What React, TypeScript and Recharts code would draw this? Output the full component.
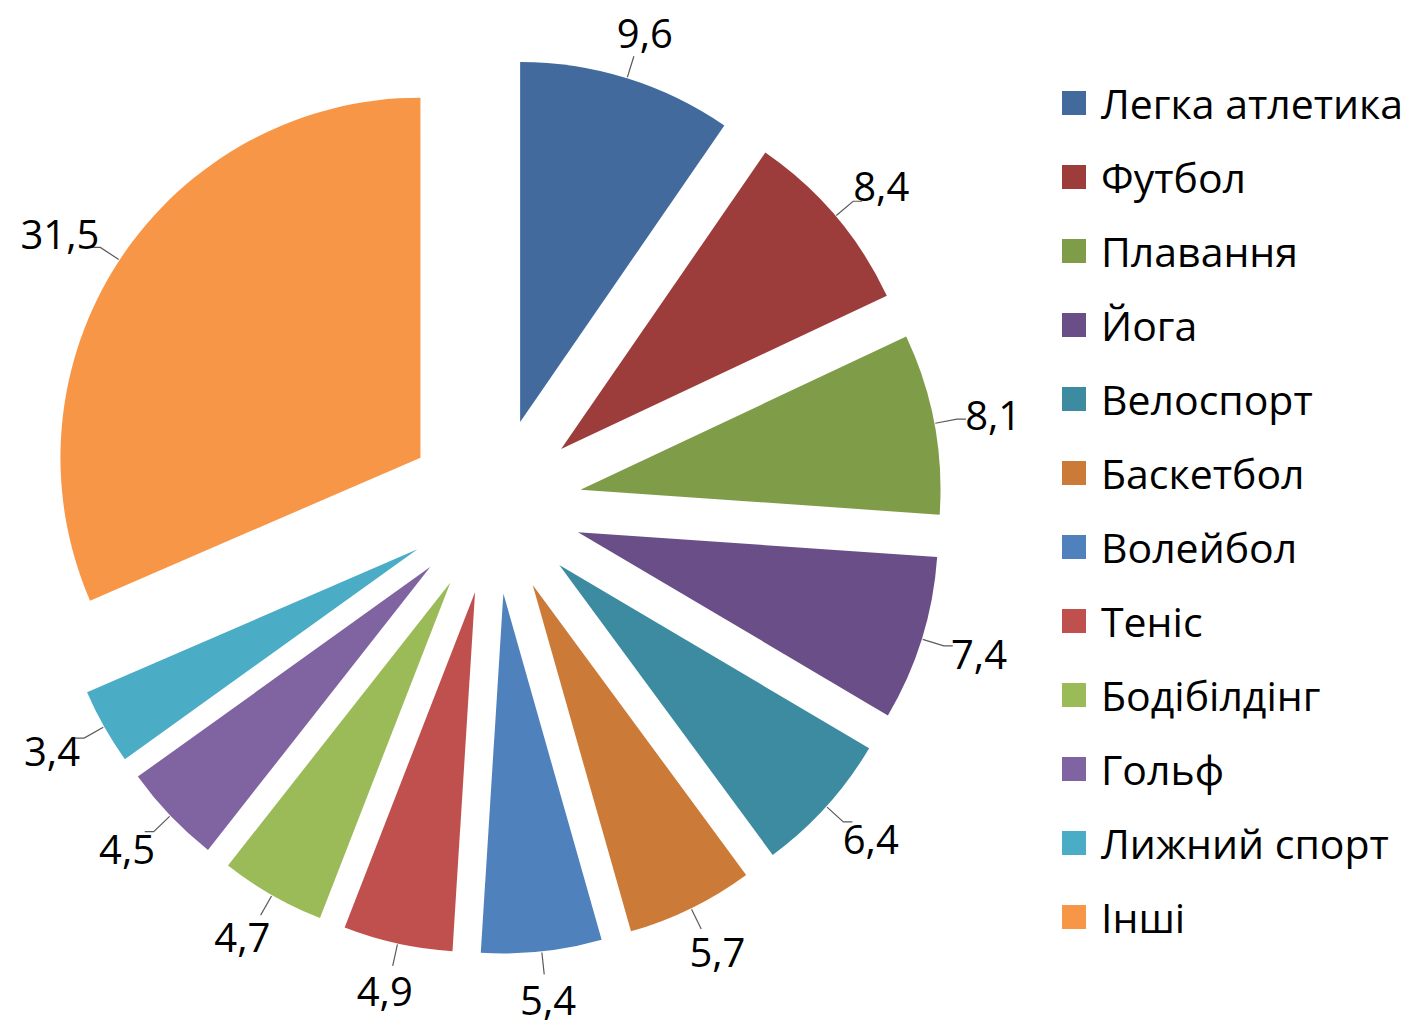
import React from "react";
import { PieChart, Pie, Cell, Sector, Legend } from "recharts";

const categories = [
  "Легка атлетика",
  "Футбол",
  "Плавання",
  "Йога",
  "Велоспорт",
  "Баскетбол",
  "Волейбол",
  "Теніс",
  "Бодібілдінг",
  "Гольф",
  "Лижний спорт",
  "Інші",
];

const shares = [9.6, 8.4, 8.1, 7.4, 6.4, 5.7, 5.4, 4.9, 4.7, 4.5, 3.4, 31.5];

const colors = [
  "#426A9D",
  "#9D3D3B",
  "#7F9C48",
  "#6A4E88",
  "#3D8BA1",
  "#CC7A37",
  "#4F81BD",
  "#C0504D",
  "#9BBB59",
  "#8064A2",
  "#4BACC6",
  "#F79646",
];

const data = categories.map((name, i) => ({ name, value: shares[i] }));

const RAD = Math.PI / 180;
const EXPLODE = 88;
const FONT = "'Open Sans', 'Noto Sans', sans-serif";
const FS = 40;
const GAP = 32;

const shift = (midAngle: number, d: number) => ({
  dx: d * Math.cos(-midAngle * RAD),
  dy: d * Math.sin(-midAngle * RAD),
});

// each slice pulled out along its own bisector
const ExplodedSector = (props: any) => {
  const { dx, dy } = shift(props.midAngle, EXPLODE);
  return <Sector {...props} cx={props.cx + dx} cy={props.cy + dy} stroke="none" />;
};

const fmt = (v: number) => v.toFixed(1).replace(".", ",");

const renderLabel = (props: any) => {
  const { cx, cy, midAngle, outerRadius, value } = props;
  const { dx, dy } = shift(midAngle, EXPLODE);
  const ox = cx + dx;
  const oy = cy + dy;
  const ux = Math.cos(-midAngle * RAD);
  const uy = Math.sin(-midAngle * RAD);
  const text = fmt(value);
  const digits = text.replace(",", "").length;
  const halfW = ((digits * 0.572 + 0.25) * FS) / 2;
  const halfH = 16;
  const px = ox + (outerRadius + GAP) * ux;
  const py = oy + (outerRadius + GAP) * uy;
  const tx = px + halfW * ux;
  const ty = py + halfH * uy;

  const ax = ox + (outerRadius + 1) * ux;
  const ay = oy + (outerRadius + 1) * uy;
  const bx = ox + (outerRadius + GAP - 9) * ux;
  const by = oy + (outerRadius + GAP - 9) * uy;
  const pts = [`${ax},${ay}`, `${bx},${by}`];
  if (Math.abs(ux) > 0.5) pts.push(`${bx + Math.sign(ux) * 9},${by}`);

  return (
    <g>
      <polyline points={pts.join(" ")} stroke="#5a5a5a" strokeWidth={1.2} fill="none" />
      <text
        x={tx}
        y={ty}
        textAnchor="middle"
        dominantBaseline="central"
        fontFamily={FONT}
        fontSize={FS}
        fill="#000"
      >
        {text}
      </text>
    </g>
  );
};

const renderLegend = () => (
  <div style={{ fontFamily: FONT, fontSize: 41, color: "#000" }}>
    {categories.map((c, i) => (
      <div key={c} style={{ height: 74, display: "flex", alignItems: "center" }}>
        <span
          style={{
            width: 24,
            height: 24,
            background: colors[i],
            display: "inline-block",
            marginRight: 15,
            flex: "none",
          }}
        />
        <span style={{ whiteSpace: "nowrap" }}>{c}</span>
      </div>
    ))}
  </div>
);

export default function App() {
  return (
    <div style={{ position: "absolute", left: 0, top: 0, width: 1409, height: 1027, background: "#fff" }}>
      <PieChart width={1409} height={1027} margin={{ top: 0, right: 0, bottom: 0, left: 0 }}>
        <Pie
          data={data}
          dataKey="value"
          nameKey="name"
          cx={494}
          cy={506}
          outerRadius={360}
          startAngle={90}
          endAngle={-270}
          isAnimationActive={false}
          shape={ExplodedSector}
          label={renderLabel}
          labelLine={false}
          stroke="none"
        >
          {data.map((d, i) => (
            <Cell key={d.name} fill={colors[i]} />
          ))}
        </Pie>
        <Legend
          layout="vertical"
          content={renderLegend}
          wrapperStyle={{ left: 1062, top: 66, width: 347 }}
        />
      </PieChart>
    </div>
  );
}
